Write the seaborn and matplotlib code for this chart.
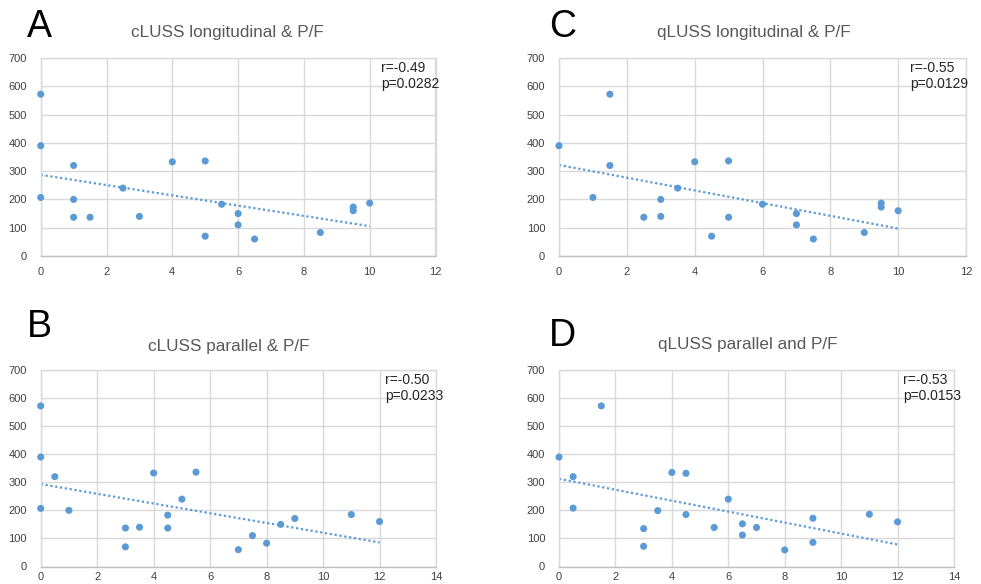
import matplotlib
matplotlib.use("Agg")
import matplotlib.pyplot as plt
import seaborn as sns
import pandas as pd

sns.set_theme(style="white")
plt.rcParams['font.family'] = ['Liberation Sans', 'DejaVu Sans']

# Panel A: cLUSS longitudinal vs P/F
a_x = [0, 0, 0, 1, 1, 1, 1.5, 2.5, 3, 4, 5, 5, 5.5, 6, 6, 6.5, 8.5, 9.5, 9.5, 10]
a_y = [572, 390, 207, 320, 200, 137, 137, 240, 140, 333, 336, 70, 183, 150, 110, 60, 83, 173, 160, 187]
# Panel B: cLUSS parallel vs P/F
b_x = [0, 0, 0, 0.5, 1, 3, 3, 3.5, 4, 4.5, 4.5, 5, 5.5, 7, 7.5, 8, 8.5, 9, 11, 12]
b_y = [572, 390, 207, 320, 200, 137, 70, 140, 333, 183, 137, 240, 336, 60, 110, 83, 150, 171, 185, 160]
# Panel C: qLUSS longitudinal vs P/F
c_x = [0, 1, 1.5, 1.5, 2.5, 3, 3, 3.5, 4, 4.5, 5, 5, 6, 7, 7, 7.5, 9, 9.5, 9.5, 10]
c_y = [390, 207, 572, 320, 137, 200, 140, 240, 333, 70, 336, 137, 183, 150, 110, 60, 83, 187, 173, 160]
# Panel D: qLUSS parallel vs P/F
d_x = [0, 0.5, 0.5, 1.5, 3, 3, 3.5, 4, 4.5, 4.5, 5.5, 6, 6.5, 6.5, 7, 8, 9, 9, 11, 12]
d_y = [390, 320, 208, 572, 135, 72, 199, 335, 332, 185, 139, 240, 152, 112, 139, 59, 172, 86, 186, 159]

titles = ["cLUSS longitudinal & P/F", "cLUSS parallel & P/F",
          "qLUSS longitudinal & P/F", "qLUSS parallel and P/F"]
letters = ["A", "B", "C", "D"]
stats = ["r=-0.49\np=0.0282", "r=-0.50\np=0.0233", "r=-0.55\np=0.0129", "r=-0.53\np=0.0153"]
xmax = [12, 14, 12, 14]

W, H = 981, 584
fig = plt.figure(figsize=(W / 100, H / 100), dpi=100)

# axes boxes in pixels: left, right, top, bottom
boxes = [(40.7, 435.5, 58, 256), (40.7, 436, 370, 566.5),
         (559, 966, 58, 256), (559, 954, 370, 566.5)]
letter_pos = [(27, 27), (27, 327), (549, 27), (549, 336)]
title_pos = [(227, 33), (229, 347), (754, 33), (748, 345)]

blue = "#5b9bd5"
grid = "#d9d9d9"
txtgray = "#595959"
tickgray = "#404040"

data = [(a_x, a_y), (b_x, b_y), (c_x, c_y), (d_x, d_y)]
for i, ((xs, ys), box) in enumerate(zip(data, boxes)):
    l, r, t, b = box
    ax = fig.add_axes([l / W, 1 - b / H, (r - l) / W, (b - t) / H])
    df = pd.DataFrame({"x": xs, "y": ys})
    sns.regplot(data=df, x="x", y="y", ax=ax, ci=None, truncate=True,
                scatter_kws=dict(s=26, color=blue, edgecolor="none", alpha=1, clip_on=False, zorder=3),
                line_kws=dict(color=blue, linestyle=(0, (1, 1.2)), linewidth=1.6, zorder=2))
    ax.set_xlim(0, xmax[i])
    ax.set_ylim(0, 700)
    ax.set_xticks(range(0, xmax[i] + 1, 2))
    ax.set_yticks(range(0, 701, 100))
    ax.grid(True, color=grid, linewidth=1)
    ax.set_axisbelow(True)
    for s in ["top", "right", "left"]:
        ax.spines[s].set_color(grid)
        ax.spines[s].set_linewidth(1)
    ax.spines["bottom"].set_color("#bfbfbf")
    ax.spines["bottom"].set_linewidth(1)
    ax.set_xlabel("")
    ax.set_ylabel("")
    ax.tick_params(axis="both", length=0, labelsize=8, labelcolor=tickgray)
    ax.tick_params(axis="y", pad=10)
    ax.tick_params(axis="x", pad=8 if i in (0, 2) else 4)
    ax.text(0.862 if xmax[i] == 12 else 0.872, 0.985, stats[i], transform=ax.transAxes,
            ha="left", va="top", fontsize=10, color="#262626", linespacing=1.15)

for (lx, ly), letter in zip(letter_pos, letters):
    fig.text(lx / W, 1 - ly / H, letter, fontsize=27, ha="left", va="center", color="black")
for (tx, ty), title in zip(title_pos, titles):
    fig.text(tx / W, 1 - ty / H, title, fontsize=12.3, ha="center", va="center", color=txtgray)

fig.savefig("out.png", dpi=100)
